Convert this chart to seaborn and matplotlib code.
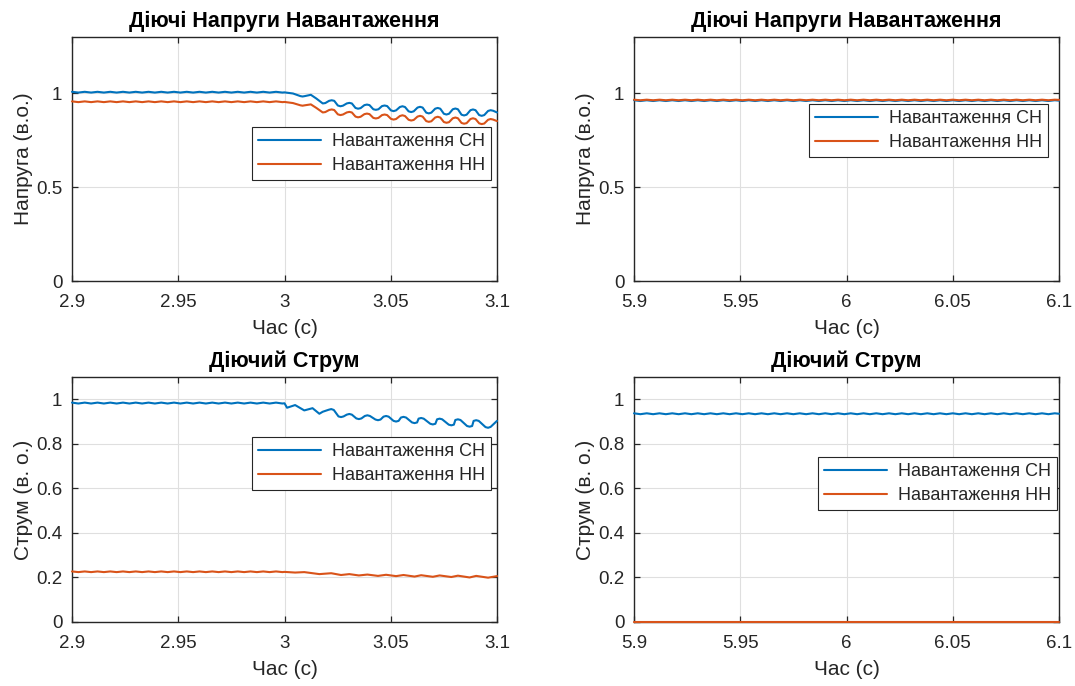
import matplotlib
matplotlib.use("Agg")
import matplotlib.pyplot as plt
import pandas as pd
import seaborn as sns

# ---------------- data ----------------
SERIES = ["Навантаження СН", "Навантаження НН"]
COLORS = ["#0072BD", "#D95319"]

TITLE_V = "Діючі Напруги Навантаження"
TITLE_I = "Діючий Струм"
XLABEL = "Час (с)"
YLABEL_V = "Напруга (в.о.)"
YLABEL_I = "Струм (в. о.)"

XTICKS_L = [2.9, 2.95, 3.0, 3.05, 3.1]
XTICKLABELS_L = ["2.9", "2.95", "3", "3.05", "3.1"]
XTICKS_R = [5.9, 5.95, 6.0, 6.05, 6.1]
XTICKLABELS_R = ["5.9", "5.95", "6", "6.05", "6.1"]
YTICKS_V = [0, 0.5, 1]
YTICKLABELS_V = ["0", "0.5", "1"]
YTICKS_I = [0, 0.2, 0.4, 0.6, 0.8, 1]
YTICKLABELS_I = ["0", "0.2", "0.4", "0.6", "0.8", "1"]

# left panels, before the disturbance (2.9 .. 3.0 s)
T_PRE = [2.900, 2.903, 2.906, 2.909, 2.912, 2.915, 2.918, 2.921, 2.924, 2.927,
         2.930, 2.933, 2.936, 2.939, 2.942, 2.945, 2.948, 2.951, 2.954, 2.957,
         2.960, 2.963, 2.966, 2.969, 2.972, 2.975, 2.978, 2.981, 2.984, 2.987,
         2.990, 2.993, 2.996, 2.999]
V_CH_PRE = [1.008, 1.004, 1.008, 1.004, 1.008, 1.004, 1.008, 1.004, 1.008, 1.004,
            1.008, 1.004, 1.008, 1.004, 1.008, 1.004, 1.008, 1.004, 1.008, 1.004,
            1.008, 1.004, 1.008, 1.004, 1.008, 1.004, 1.008, 1.004, 1.008, 1.004,
            1.008, 1.004, 1.008, 1.004]
V_HH_PRE = [0.957, 0.953, 0.957, 0.953, 0.957, 0.953, 0.957, 0.953, 0.957, 0.953,
            0.957, 0.953, 0.957, 0.953, 0.957, 0.953, 0.957, 0.953, 0.957, 0.953,
            0.957, 0.953, 0.957, 0.953, 0.957, 0.953, 0.957, 0.953, 0.957, 0.953,
            0.957, 0.953, 0.957, 0.953]
I_CH_PRE = [0.985, 0.981, 0.985, 0.981, 0.985, 0.981, 0.985, 0.981, 0.985, 0.981,
            0.985, 0.981, 0.985, 0.981, 0.985, 0.981, 0.985, 0.981, 0.985, 0.981,
            0.985, 0.981, 0.985, 0.981, 0.985, 0.981, 0.985, 0.981, 0.985, 0.981,
            0.985, 0.981, 0.985, 0.981]
I_HH_PRE = [0.227, 0.224, 0.227, 0.224, 0.227, 0.224, 0.227, 0.224, 0.227, 0.224,
            0.227, 0.224, 0.227, 0.224, 0.227, 0.224, 0.227, 0.224, 0.227, 0.224,
            0.227, 0.224, 0.227, 0.224, 0.227, 0.224, 0.227, 0.224, 0.227, 0.224,
            0.227, 0.224, 0.227, 0.224]

# top-left, after 3.0 s (extrema plus shoulder points)
TV_POST = [3.000, 3.004, 3.0075, 3.0085, 3.0095, 3.0124, 3.015, 3.018, 3.0192,
           3.0210, 3.0222, 3.0234, 3.0251, 3.0263, 3.0275, 3.0293, 3.0305, 3.0317,
           3.0334, 3.0346, 3.0358, 3.0376, 3.0388, 3.0400, 3.0418, 3.043, 3.0442,
           3.0459, 3.0471, 3.0483, 3.0501, 3.0513, 3.0525, 3.0543, 3.0555, 3.0567,
           3.0584, 3.0596, 3.0608, 3.0626, 3.0638, 3.0650, 3.0667, 3.0679, 3.0691,
           3.0709, 3.0721, 3.0733, 3.0750, 3.0762, 3.0774, 3.0792, 3.0804, 3.0816,
           3.0833, 3.0845, 3.0857, 3.0875, 3.0887, 3.0899, 3.0916, 3.0928, 3.0940,
           3.0958, 3.097, 3.0982, 3.100]
V_CH_POST = [1.005, 0.999, 0.985, 0.983, 0.985, 0.992, 0.972, 0.946, 0.948,
             0.960, 0.963, 0.960, 0.935, 0.931, 0.934, 0.946, 0.949, 0.946,
             0.922, 0.918, 0.921, 0.937, 0.940, 0.937, 0.915, 0.912, 0.915,
             0.932, 0.935, 0.932, 0.909, 0.905, 0.909, 0.927, 0.931, 0.927,
             0.904, 0.900, 0.904, 0.924, 0.928, 0.924, 0.897, 0.893, 0.897,
             0.918, 0.922, 0.918, 0.891, 0.887, 0.891, 0.915, 0.919, 0.915,
             0.886, 0.882, 0.886, 0.910, 0.914, 0.910, 0.884, 0.880, 0.884,
             0.906, 0.910, 0.907, 0.898]
V_HH_POST = [0.954, 0.948, 0.936, 0.934, 0.936, 0.941, 0.922, 0.898, 0.900,
             0.911, 0.914, 0.911, 0.888, 0.884, 0.887, 0.898, 0.901, 0.898,
             0.876, 0.872, 0.875, 0.889, 0.892, 0.889, 0.869, 0.866, 0.869,
             0.884, 0.887, 0.884, 0.864, 0.860, 0.863, 0.879, 0.883, 0.879,
             0.859, 0.855, 0.858, 0.876, 0.880, 0.876, 0.852, 0.848, 0.851,
             0.871, 0.875, 0.871, 0.847, 0.843, 0.846, 0.867, 0.871, 0.867,
             0.842, 0.838, 0.841, 0.863, 0.867, 0.863, 0.840, 0.836, 0.839,
             0.859, 0.863, 0.860, 0.852]

# bottom-left, after 3.0 s
TI_CH_POST = [3.000, 3.0012, 3.005, 3.0093, 3.0132, 3.0164, 3.018, 3.0208, 3.022,
              3.0232, 3.0254, 3.0266, 3.0278, 3.0293, 3.0305, 3.0317, 3.0338, 3.035,
              3.0362, 3.0378, 3.039, 3.0402, 3.0428, 3.044, 3.0452, 3.0466, 3.0478,
              3.0490, 3.0513, 3.0525, 3.0537, 3.0548, 3.056, 3.0572, 3.0600, 3.0612,
              3.0624, 3.0631, 3.0643, 3.0655, 3.0686, 3.0698, 3.0710, 3.0718, 3.073,
              3.0742, 3.0773, 3.0785, 3.0797, 3.0804, 3.0816, 3.0828, 3.0859, 3.0871,
              3.0883, 3.0890, 3.0902, 3.0914, 3.0946, 3.0958, 3.0970, 3.100]
I_CH_POST = [0.982, 0.962, 0.974, 0.950, 0.960, 0.935, 0.944, 0.953, 0.956,
             0.952, 0.923, 0.920, 0.923, 0.931, 0.934, 0.931, 0.914, 0.911,
             0.914, 0.925, 0.928, 0.925, 0.909, 0.906, 0.909, 0.922, 0.925,
             0.922, 0.903, 0.900, 0.903, 0.918, 0.921, 0.918, 0.896, 0.893,
             0.896, 0.913, 0.916, 0.913, 0.890, 0.887, 0.890, 0.910, 0.913,
             0.910, 0.886, 0.883, 0.886, 0.907, 0.910, 0.907, 0.880, 0.877,
             0.880, 0.903, 0.906, 0.903, 0.875, 0.872, 0.876, 0.903]
TI_HH_POST = [3.000, 3.005, 3.0093, 3.0164, 3.022, 3.0266, 3.0305, 3.035, 3.039, 3.044,
              3.0478, 3.0525, 3.056, 3.0612, 3.0643, 3.0698, 3.073, 3.0785, 3.0816, 3.0871,
              3.0902, 3.0958, 3.100]
I_HH_POST = [0.225, 0.222, 0.224, 0.215, 0.219, 0.211, 0.215, 0.209, 0.213, 0.207,
             0.212, 0.206, 0.211, 0.204, 0.210, 0.203, 0.209, 0.202, 0.208, 0.200,
             0.207, 0.199, 0.206]

# right panels (5.9 .. 6.1 s)
T_R = [5.900, 5.903, 5.906, 5.909, 5.912, 5.915, 5.918, 5.921, 5.924, 5.927,
       5.930, 5.933, 5.936, 5.939, 5.942, 5.945, 5.948, 5.951, 5.954, 5.957,
       5.960, 5.963, 5.966, 5.969, 5.972, 5.975, 5.978, 5.981, 5.984, 5.987,
       5.990, 5.993, 5.996, 5.999, 6.002, 6.005, 6.008, 6.011, 6.014, 6.017,
       6.020, 6.023, 6.026, 6.029, 6.032, 6.035, 6.038, 6.041, 6.044, 6.047,
       6.050, 6.053, 6.056, 6.059, 6.062, 6.065, 6.068, 6.071, 6.074, 6.077,
       6.080, 6.083, 6.086, 6.089, 6.092, 6.095, 6.098, 6.100]
V_CH_R = [0.963, 0.959, 0.963, 0.959, 0.963, 0.959, 0.963, 0.959, 0.963, 0.959,
          0.963, 0.959, 0.963, 0.959, 0.963, 0.959, 0.963, 0.959, 0.963, 0.959,
          0.963, 0.959, 0.963, 0.959, 0.963, 0.959, 0.963, 0.959, 0.963, 0.959,
          0.963, 0.959, 0.963, 0.959, 0.963, 0.959, 0.963, 0.959, 0.963, 0.959,
          0.963, 0.959, 0.963, 0.959, 0.963, 0.959, 0.963, 0.959, 0.963, 0.959,
          0.963, 0.959, 0.963, 0.959, 0.963, 0.959, 0.963, 0.959, 0.963, 0.959,
          0.963, 0.959, 0.963, 0.959, 0.963, 0.959, 0.963, 0.961]
V_HH_R = [0.966, 0.963, 0.966, 0.963, 0.966, 0.963, 0.966, 0.963, 0.966, 0.963,
          0.966, 0.963, 0.966, 0.963, 0.966, 0.963, 0.966, 0.963, 0.966, 0.963,
          0.966, 0.963, 0.966, 0.963, 0.966, 0.963, 0.966, 0.963, 0.966, 0.963,
          0.966, 0.963, 0.966, 0.963, 0.966, 0.963, 0.966, 0.963, 0.966, 0.963,
          0.966, 0.963, 0.966, 0.963, 0.966, 0.963, 0.966, 0.963, 0.966, 0.963,
          0.966, 0.963, 0.966, 0.963, 0.966, 0.963, 0.966, 0.963, 0.966, 0.963,
          0.966, 0.963, 0.966, 0.963, 0.966, 0.963, 0.966, 0.965]
I_CH_R = [0.937, 0.933, 0.937, 0.933, 0.937, 0.933, 0.937, 0.933, 0.937, 0.933,
          0.937, 0.933, 0.937, 0.933, 0.937, 0.933, 0.937, 0.933, 0.937, 0.933,
          0.937, 0.933, 0.937, 0.933, 0.937, 0.933, 0.937, 0.933, 0.937, 0.933,
          0.937, 0.933, 0.937, 0.933, 0.937, 0.933, 0.937, 0.933, 0.937, 0.933,
          0.937, 0.933, 0.937, 0.933, 0.937, 0.933, 0.937, 0.933, 0.937, 0.933,
          0.937, 0.933, 0.937, 0.933, 0.937, 0.933, 0.937, 0.933, 0.937, 0.933,
          0.937, 0.933, 0.937, 0.933, 0.937, 0.933, 0.937, 0.935]
I_HH_R_T = [5.900, 6.100]
I_HH_R = [0.0, 0.0]

# ---------------- style ----------------
sns.set_theme(style="whitegrid")
plt.rcParams["font.family"] = ["Liberation Sans", "DejaVu Sans"]

fig = plt.figure(figsize=(10.75, 6.86), dpi=100)
W, H = 1075, 686


def axes_at(left, top, right, bottom):
    return fig.add_axes([left / W, 1 - bottom / H, (right - left) / W, (bottom - top) / H])


def frame(t_ch, v_ch, t_hh, v_hh):
    return pd.DataFrame({
        "t": list(t_ch) + list(t_hh),
        "v": list(v_ch) + list(v_hh),
        "s": [SERIES[0]] * len(t_ch) + [SERIES[1]] * len(t_hh),
    })


def draw(ax, df, xlim, xt, xtl, ylim, yt, ytl, title, ylabel, leg_anchor):
    sns.lineplot(data=df, x="t", y="v", hue="s", hue_order=SERIES,
                 palette=COLORS, ax=ax, sort=False, estimator=None,
                 linewidth=1.5)
    for ln in ax.get_lines():
        ln.set_zorder(3)
        ln.set_clip_on(False)
    ax.set_xlim(*xlim)
    ax.set_ylim(*ylim)
    ax.set_xticks(xt)
    ax.set_xticklabels(xtl)
    ax.set_yticks(yt)
    ax.set_yticklabels(ytl)
    ax.set_title(title, fontsize=15.5, fontweight="bold", pad=7, color="black")
    ax.set_xlabel(XLABEL, fontsize=15, labelpad=6, color="#262626")
    ax.set_ylabel(ylabel, fontsize=15, labelpad=2, color="#262626")
    ax.set_facecolor("white")
    ax.grid(True, color="#dfdfdf", linewidth=0.8)
    for sp in ax.spines.values():
        sp.set_color("#262626")
        sp.set_linewidth(1.0)
        sp.set_visible(True)
    ax.tick_params(direction="in", length=4, width=0.9, top=True, right=True,
                   bottom=True, left=True, labelsize=13.5, colors="#262626")
    ax.tick_params(axis="x", pad=9)
    ax.tick_params(axis="y", pad=7)
    leg = ax.legend(loc="upper right", bbox_to_anchor=leg_anchor,
                    fontsize=13, frameon=True, fancybox=False, framealpha=1,
                    edgecolor="#262626", handlelength=3.5, borderpad=0.33,
                    labelspacing=0.4, handletextpad=0.6, borderaxespad=0)
    leg.get_frame().set_linewidth(0.8)
    leg.set_zorder(5)
    for line in leg.get_lines():
        line.set_linewidth(1.5)


fr = frame(T_PRE + TV_POST, V_CH_PRE + V_CH_POST, T_PRE + TV_POST, V_HH_PRE + V_HH_POST)
ax1 = axes_at(72, 37, 497, 281)
draw(ax1, fr, (2.9, 3.1), XTICKS_L, XTICKLABELS_L, (0, 1.3), YTICKS_V, YTICKLABELS_V,
     TITLE_V, YLABEL_V, (0.986, 0.631))

fr = frame(T_R, V_CH_R, T_R, V_HH_R)
ax2 = axes_at(634, 37, 1059, 281)
draw(ax2, fr, (5.9, 6.1), XTICKS_R, XTICKLABELS_R, (0, 1.3), YTICKS_V, YTICKLABELS_V,
     TITLE_V, YLABEL_V, (0.974, 0.725))

fr = frame(T_PRE + TI_CH_POST, I_CH_PRE + I_CH_POST, T_PRE + TI_HH_POST, I_HH_PRE + I_HH_POST)
ax3 = axes_at(72, 377, 497, 622)
draw(ax3, fr, (2.9, 3.1), XTICKS_L, XTICKLABELS_L, (0, 1.1), YTICKS_I, YTICKLABELS_I,
     TITLE_I, YLABEL_I, (0.986, 0.755))

fr = frame(T_R, I_CH_R, I_HH_R_T, I_HH_R)
ax4 = axes_at(634, 377, 1059, 622)
draw(ax4, fr, (5.9, 6.1), XTICKS_R, XTICKLABELS_R, (0, 1.1), YTICKS_I, YTICKLABELS_I,
     TITLE_I, YLABEL_I, (0.995, 0.673))

fig.savefig("out.png", dpi=100, facecolor="white")
